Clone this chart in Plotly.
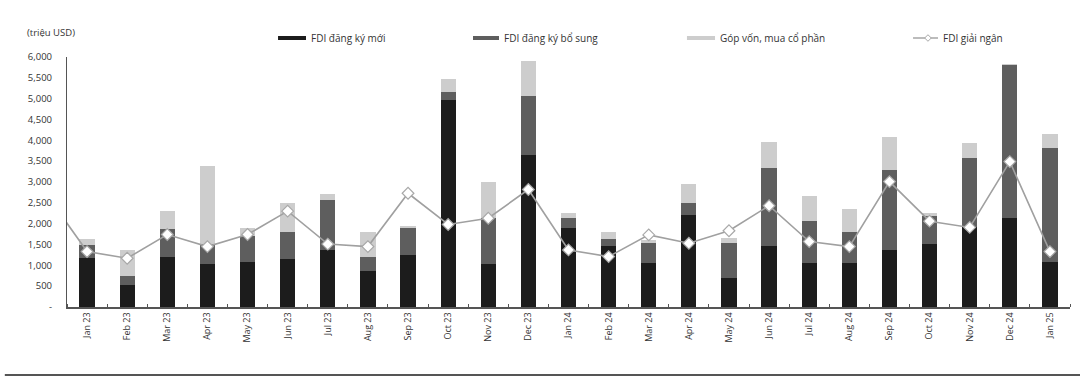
import plotly.graph_objects as go

# Monthly FDI into Vietnam (million USD)
months = ["Jan 23", "Feb 23", "Mar 23", "Apr 23", "May 23", "Jun 23", "Jul 23",
          "Aug 23", "Sep 23", "Oct 23", "Nov 23", "Dec 23", "Jan 24", "Feb 24",
          "Mar 24", "Apr 24", "May 24", "Jun 24", "Jul 24", "Aug 24", "Sep 24",
          "Oct 24", "Nov 24", "Dec 24", "Jan 25"]

fdi_new = [1170, 530, 1210, 1030, 1090, 1150, 1370, 860, 1260, 4970, 1030, 3650,
           1890, 1470, 1050, 2210, 690, 1460, 1060, 1060, 1380, 1510, 1930, 2130, 1090]
fdi_additional = [320, 220, 660, 480, 620, 660, 1210, 350, 630, 180, 1100, 1420,
                  240, 160, 480, 280, 840, 1870, 1010, 750, 1920, 680, 1640, 3680, 2720]
fdi_capital = [140, 630, 430, 1870, 180, 680, 140, 600, 60, 320, 860, 830,
               120, 180, 80, 460, 120, 640, 590, 540, 780, 60, 360, 20, 340]

# disbursed FDI; the first value (Dec 22) lies just outside the plotted range
disbursed_prev = 2690
disbursed = [1330, 1170, 1740, 1450, 1740, 2300, 1510, 1450, 2730, 1980, 2130, 2820,
             1370, 1210, 1730, 1530, 1830, 2430, 1570, 1450, 3010, 2060, 1910, 3490, 1330]

y_ticks = [0, 500, 1000, 1500, 2000, 2500, 3000, 3500, 4000, 4500, 5000, 5500, 6000]
y_tick_text = ["-", "500", "1,000", "1,500", "2,000", "2,500", "3,000", "3,500",
               "4,000", "4,500", "5,000", "5,500", "6,000"]

series_names = ["FDI đăng ký mới", "FDI đăng ký bổ sung", "Góp vốn, mua cổ phần",
                "FDI giải ngân"]
bar_colors = ["#1c1c1c", "#5e5e5e", "#cdcdcd"]
line_color = "#a0a0a0"

x = list(range(len(months)))
font = "Open Sans, Noto Sans, sans-serif"
text_color = "#333333"

fig = go.Figure()
for values, name, color in zip([fdi_new, fdi_additional, fdi_capital],
                               series_names[:3], bar_colors):
    fig.add_trace(go.Bar(x=x, y=values, name=name, width=0.38,
                         marker=dict(color=color, line_width=0)))
fig.add_trace(go.Scatter(
    x=[-1] + x, y=[disbursed_prev] + disbursed, name=series_names[3],
    mode="lines+markers",
    line=dict(color=line_color, width=1.6),
    marker=dict(symbol="diamond", size=9, color="white",
                line=dict(color="#a8a8a8", width=1.2)),
))

fig.update_layout(
    width=1080, height=378,
    barmode="stack",
    paper_bgcolor="white", plot_bgcolor="white",
    margin=dict(l=67, r=10, t=57, b=71),
    font=dict(family=font, size=10, color=text_color),
    showlegend=False,
    xaxis=dict(
        range=[-0.5, 24.5], tickmode="array", tickvals=x, ticktext=months,
        tickangle=-90, tickfont=dict(size=9, color=text_color),
        showgrid=False, zeroline=False,
        showline=True, linecolor="#555555", linewidth=1.5,
        ticks="", ticklen=0,
        minor=dict(tick0=-0.5, dtick=1, ticks="inside", ticklen=3,
                   tickcolor="#555555", showgrid=False),
    ),
    yaxis=dict(
        range=[0, 6000], tickmode="array", tickvals=y_ticks, ticktext=y_tick_text,
        tickfont=dict(size=9.5, color=text_color),
        showgrid=False, zeroline=False,
        showline=True, linecolor="#555555", linewidth=1.2,
        ticks="", ticklabelstandoff=12,
    ),
)

# unit label above the value axis
fig.add_annotation(text="(triệu USD)", xref="paper", yref="paper",
                   x=-0.042, y=1.097, xanchor="left", yanchor="middle",
                   showarrow=False, font=dict(size=9.5, color=text_color))

# legend row drawn across the top
legend_y = 1.076
swatch_x = [(0.2104, 0.2383), (0.4048, 0.4307), (0.6181, 0.6461)]
label_x = [0.2413, 0.4337, 0.649, 0.8714]
for (x0, x1), color in zip(swatch_x, bar_colors):
    fig.add_shape(type="rect", xref="paper", yref="paper",
                  x0=x0, x1=x1, y0=legend_y - 0.008, y1=legend_y + 0.008,
                  fillcolor=color, line_width=0)
fig.add_shape(type="line", xref="paper", yref="paper",
              x0=0.8435, x1=0.8684, y0=legend_y, y1=legend_y,
              line=dict(color=line_color, width=1.4))
dx, dy, cx = 0.0033, 0.013, 0.8584
fig.add_shape(type="path", xref="paper", yref="paper",
              path=(f"M {cx},{legend_y + dy} L {cx + dx},{legend_y} "
                    f"L {cx},{legend_y - dy} L {cx - dx},{legend_y} Z"),
              fillcolor="white", line=dict(color="#a8a8a8", width=1))
for lx, name in zip(label_x, series_names):
    fig.add_annotation(text=name, xref="paper", yref="paper",
                       x=lx, y=legend_y, xanchor="left", yanchor="middle",
                       showarrow=False, font=dict(size=10, color=text_color))

# rule along the bottom edge of the page
fig.add_shape(type="line", xref="paper", yref="paper",
              x0=-0.062, x1=1.01, y0=-0.272, y1=-0.272,
              line=dict(color="#555555", width=2))

fig.write_html("out.html")
